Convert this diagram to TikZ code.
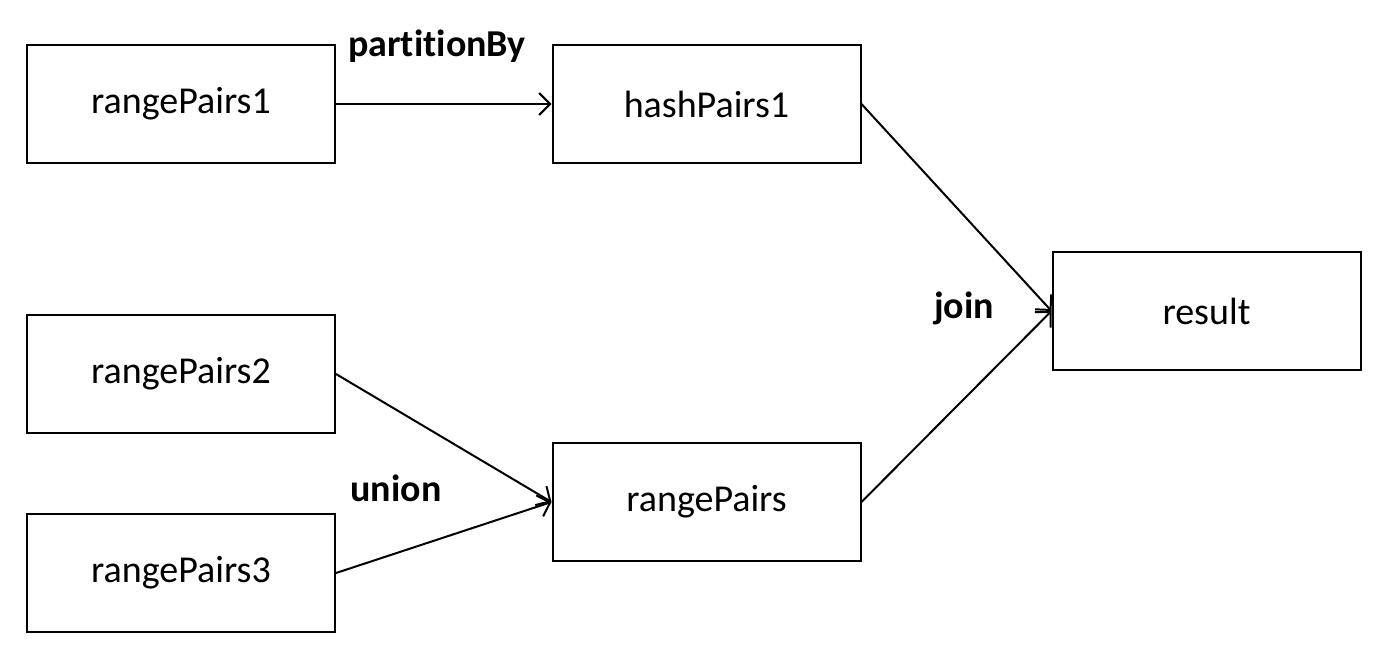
\documentclass[tikz,border=0pt]{standalone}
\usepackage{fontspec}
\setmainfont{Carlito}[Ligatures={NoCommon}]
\usetikzlibrary{arrows.meta}
\begin{document}
\begin{tikzpicture}[x=1pt,y=-1pt,
  box/.style={draw, line width=2pt, minimum width=308pt, minimum height=118pt, inner sep=0pt, font=\fontsize{38}{44}\selectfont},
  conn/.style={line width=2pt, -{Straight Barb[length=11pt,width=22pt,line width=2pt]}},
  lbl/.style={font=\fontsize{38}{44}\selectfont\bfseries}]
\useasboundingbox (0,0) rectangle (1396,656);
\node[box] (rp1) at (181,104) {rangePairs1};
\node[box] (hp1) at (706.5,104) {hashPairs1};
\node[box] (rp2) at (181,374) {rangePairs2};
\node[box] (rp3) at (181,573) {rangePairs3};
\node[box] (rp) at (706.5,502) {rangePairs};
\node[box] (res) at (1206.5,311) {result};
\draw[conn] (rp1.east) -- (hp1.west);
\draw[conn] (rp2.east) -- (rp.west);
\draw[conn] (rp3.east) -- (rp.west);
\draw[conn] (hp1.east) -- (res.west);
\draw[conn] (rp.east) -- (res.west);
\node[lbl] (l1) at (437,46) {partitionBy};
\node[lbl] (l2) at (396,488) {union};
\node[lbl] (l3) at (964,308) {join};
\end{tikzpicture}
\end{document}
